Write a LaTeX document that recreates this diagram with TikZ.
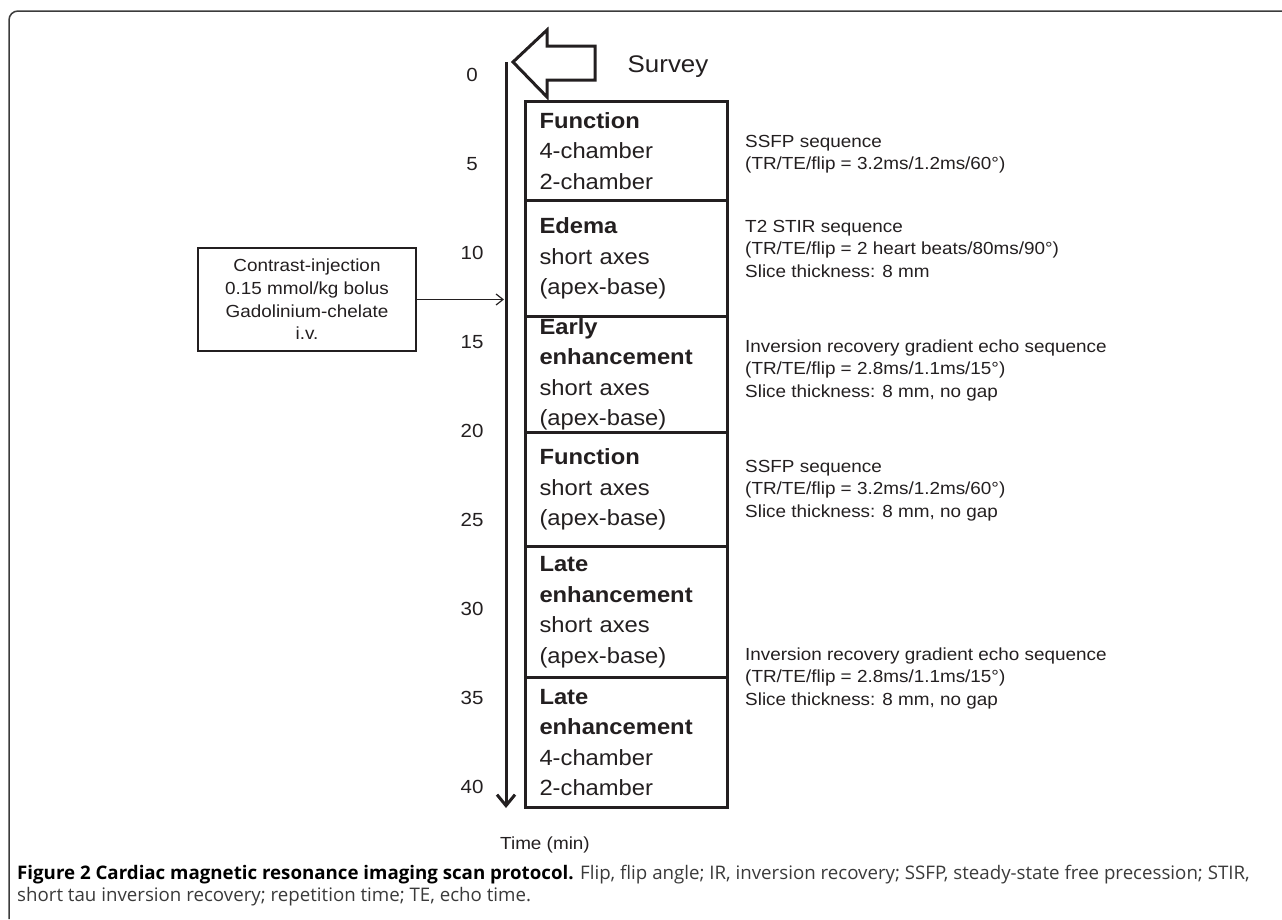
\documentclass[tikz,border=0pt]{standalone}
\usepackage{fontspec}
\setmainfont{Liberation Sans}[FakeStretch=1.08]
\newfontfamily\capfont{Open Sans}
\usetikzlibrary{arrows.meta,calc}
\definecolor{ink}{HTML}{231F20}
\definecolor{captxt}{HTML}{3A3A3A}
\definecolor{framec}{HTML}{3C3C3C}
\begin{document}
\begin{tikzpicture}[x=1pt,y=-1pt,
  stage/.style={draw=ink,line width=3pt,minimum width=202pt,text width=174pt,
    inner xsep=14pt,inner ysep=0pt,align=left,anchor=north west,text=ink,
    font=\fontsize{22}{30.5}\selectfont},
  desc/.style={anchor=north west,inner sep=0pt,align=left,text=ink,
    font=\fontsize{17.5}{22.7}\selectfont},
  num/.style={anchor=base,inner sep=0pt,text=ink,font=\fontsize{19}{19}\selectfont},
  injbox/.style={draw=ink,line width=1.2pt,minimum width=218pt,minimum height=103pt,
    inner sep=0pt,align=center,text=ink,font=\fontsize{17.5}{22.7}\selectfont},
  axisline/.style={draw=ink,line width=3pt,-{Straight Barb[length=11pt,width=18pt]}},
  thinarrow/.style={draw=ink,line width=1.2pt,-{Straight Barb[length=7pt,width=11pt]}},
  framel/.style={draw=framec,line width=1.5pt,rounded corners=9pt}
]
\useasboundingbox (0,0) rectangle (1282,919);
% outer frame
\draw[framel] (9,919) -- (9,11) -- (1282,11);

% survey arrow
\draw[ink,line width=3pt,line join=miter] (513,62) -- (547,30) -- (547,46) -- (595,46)
  -- (595,80) -- (547,80) -- (547,97) -- cycle;
\node[anchor=base,inner sep=0pt,text=ink,font=\fontsize{24}{24}\selectfont] (survey) at (668,72) {Survey};

% time axis
\coordinate (axtop) at (506,62);
\coordinate (axbot) at (506,808);
\draw[axisline] (axtop) -- (axbot);

% time numbers
\node[num] (t0)  at (472,81)  {0};
\node[num] (t5)  at (472,170) {5};
\node[num] (t10) at (472,259) {10};
\node[num] (t15) at (472,348) {15};
\node[num] (t20) at (472,437) {20};
\node[num] (t25) at (472,526) {25};
\node[num] (t30) at (472,615) {30};
\node[num] (t35) at (472,704) {35};
\node[num] (t40) at (472,793) {40};

% protocol boxes
\node[stage,minimum height=99pt]  (b1) at (524,100) {\textbf{Function}\\4-chamber\\2-chamber};
\node[stage,minimum height=116pt] (b2) at (524,199) {\textbf{Edema}\\short axes\\(apex-base)};
\node[stage,minimum height=116pt] (b3) at (524,315) {\textbf{Early}\\\textbf{enhancement}\\short axes\\(apex-base)};
\node[stage,minimum height=114pt] (b4) at (524,431) {\textbf{Function}\\short axes\\(apex-base)};
\node[stage,minimum height=131pt] (b5) at (524,545) {\textbf{Late}\\\textbf{enhancement}\\short axes\\(apex-base)};
\node[stage,minimum height=130pt] (b6) at (524,676) {\textbf{Late}\\\textbf{enhancement}\\4-chamber\\2-chamber};

% descriptions
\node[desc] (d1) at (745,131.1) {\strut SSFP sequence\\(TR/TE/flip = 3.2ms/1.2ms/60°)};
\node[desc] (d2) at (745,216.1) {\strut T2 STIR sequence\\(TR/TE/flip = 2 heart beats/80ms/90°)\\Slice thickness: 8 mm};
\node[desc] (d3) at (745,336.1) {\strut Inversion recovery gradient echo sequence\\(TR/TE/flip = 2.8ms/1.1ms/15°)\\Slice thickness: 8 mm, no gap};
\node[desc] (d4) at (745,456.1) {\strut SSFP sequence\\(TR/TE/flip = 3.2ms/1.2ms/60°)\\Slice thickness: 8 mm, no gap};
\node[desc] (d5) at (745,644.1) {\strut Inversion recovery gradient echo sequence\\(TR/TE/flip = 2.8ms/1.1ms/15°)\\Slice thickness: 8 mm, no gap};

% contrast injection
\node[injbox] (inj) at (307,299.5) {Contrast-injection\\0.15 mmol/kg bolus\\Gadolinium-chelate\\i.v.};
\coordinate (inhit) at (504,299.5);
\draw[thinarrow] (inj.east) -- (inhit);

% axis label
\node[anchor=base,inner sep=0pt,text=ink,font=\fontsize{17.5}{20}\selectfont] (tlabel) at (545,849) {Time (min)};

% caption
\node[anchor=north west,inner sep=0pt,align=left,text=captxt,
  font=\capfont\fontsize{18.7}{22.5}\selectfont] (cap) at (17,863.3)
  {\strut{\color{black}\bfseries Figure 2 Cardiac magnetic resonance imaging scan protocol.} Flip, flip angle; IR, inversion recovery; SSFP, steady-state free precession; STIR,\\short tau inversion recovery; repetition time; TE, echo time.};
\end{tikzpicture}
\end{document}
